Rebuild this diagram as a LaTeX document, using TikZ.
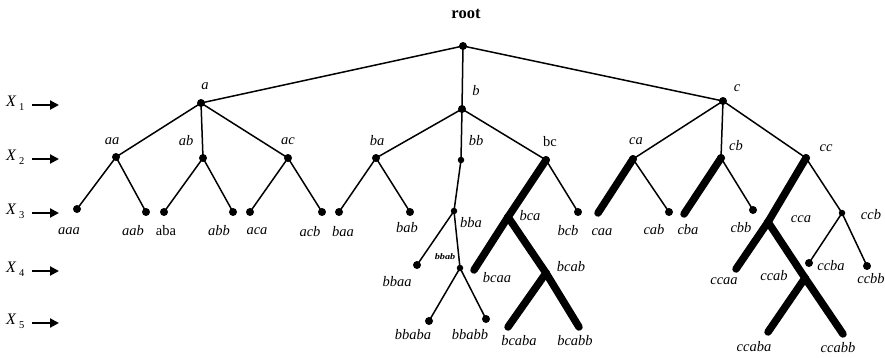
\documentclass[tikz,border=0pt]{standalone}
\usepackage{fontspec}
\setmainfont{Liberation Serif}
\usetikzlibrary{arrows.meta}
\begin{document}
\begin{tikzpicture}[x=1pt,y=-1pt,
  dot/.style={circle,fill=black,inner sep=0pt,minimum size=8pt},
  sdot/.style={circle,fill=black,inner sep=0pt,minimum size=6.5pt},
  edge/.style={line width=1.5pt},
  heavy/.style={line width=7.5pt,line cap=round},
  lab/.style={inner sep=0pt,font=\fontsize{14.5}{16}\selectfont\itshape},
  rlab/.style={inner sep=0pt,font=\fontsize{14.5}{16}\selectfont},
  lvl/.style={inner sep=0pt,anchor=west,font=\fontsize{16}{18}\selectfont},
  lvlarrow/.style={line width=2pt,-{Triangle[length=9pt,width=9pt]}}]
\useasboundingbox (0,0) rectangle (885,357);

% level markers
\foreach \k/\yy in {1/105,2/159,3/213,4/271,5/323}{
  \node[lvl] (X\k) at (6,\yy-2) {\textit{X}\,\raisebox{-4pt}{\fontsize{10.5}{10}\selectfont\k}};
  \coordinate (X\k tip) at (59,\yy);
  \draw[lvlarrow] (32,\yy) coordinate (X\k tail) -- (X\k tip);
}

% tree nodes
\node[dot] (root) at (463,46) {};
\node[dot] (a) at (201,103) {};
\node[dot] (b) at (462,109) {};
\node[dot] (c) at (723,101) {};

\node[dot] (aa) at (116,157) {};
\node[dot] (ab) at (203,158) {};
\node[dot] (ac) at (288,158) {};
\node[dot] (ba) at (376,158) {};
\node[sdot] (bb) at (461,160) {};
\node[dot] (bc) at (546,160) {};
\node[dot] (ca) at (633,159) {};
\node[dot] (cb) at (721,158) {};
\node[dot] (cc) at (806,158) {};

\node[dot] (aaa) at (77,209) {};
\node[dot] (aab) at (146,212) {};
\node[dot] (aba) at (164,212) {};
\node[dot] (abb) at (233,212) {};
\node[dot] (aca) at (250,212) {};
\node[dot] (acb) at (322,212) {};
\node[dot] (baa) at (339,212) {};
\node[dot] (bab) at (410,212) {};
\node[sdot] (bba) at (454,211) {};
\node[dot] (bca) at (508,217) {};
\node[dot] (bcb) at (578,212) {};
\coordinate (caa) at (598,213);
\node[dot] (cab) at (669,212) {};
\coordinate (cba) at (684,214);
\node[dot] (cbb) at (753,210) {};
\node[dot] (cca) at (768,222) {};
\node[sdot] (ccb) at (842,213) {};

\node[dot] (bbaa) at (417,265) {};
\node[sdot] (bbab) at (460,268) {};
\coordinate (bcaa) at (474,270);
\node[dot] (bcab) at (546,273) {};
\coordinate (ccaa) at (736,269);
\node[dot] (ccab) at (805,278) {};
\node[dot] (ccba) at (809,263) {};
\node[dot] (ccbb) at (867,266) {};

\node[dot] (bbaba) at (429,321) {};
\node[dot] (bbabb) at (486,319) {};
\coordinate (bcaba) at (508,327);
\coordinate (bcabb) at (579,327);
\coordinate (ccaba) at (768,332);
\coordinate (ccabb) at (843,334);

% thin branches
\foreach \p/\q in {root/a,root/b,root/c,
  a/aa,a/ab,a/ac,b/ba,b/bb,b/bc,c/ca,c/cb,c/cc,
  aa/aaa,aa/aab,ab/aba,ab/abb,ac/aca,ac/acb,ba/baa,ba/bab,
  bb/bba,bc/bcb,ca/cab,cb/cbb,cc/ccb,
  bba/bbaa,bba/bbab,ccb/ccba,ccb/ccbb,
  bbab/bbaba,bbab/bbabb}
  \draw[edge] (\p.center) -- (\q.center);

% heavy branches
\foreach \p/\q in {bc/bca,bca/bcaa,bca/bcab,bcab/bcaba,bcab/bcabb,
  ca/caa,cb/cba,cc/cca,cca/ccaa,cca/ccab,ccab/ccaba,ccab/ccabb}
  \draw[heavy] (\p.center) -- (\q.center);

% labels
\node[inner sep=0pt,font=\fontsize{16.5}{18}\selectfont\bfseries] (lroot) at (466,14) {root};
\node[lab] (la) at (205,86) {a};
\node[lab] (lb) at (476,91) {b};
\node[lab] (lc) at (737,88) {c};

\node[lab] (laa) at (112,141) {aa};
\node[lab] (lab) at (186,141) {ab};
\node[lab] (lac) at (288,141) {ac};
\node[lab] (lba) at (377,141) {ba};
\node[lab] (lbb) at (476,141) {bb};
\node[rlab] (lbc) at (550,142) {bc};
\node[lab] (lca) at (636,141) {ca};
\node[lab] (lcb) at (736,146) {cb};
\node[lab] (lcc) at (826,148) {cc};

\node[lab] (laaa) at (69,231) {aaa};
\node[lab] (laab) at (133,231) {aab};
\node[rlab] (laba) at (166,231) {aba};
\node[lab] (labb) at (219,231) {abb};
\node[lab] (laca) at (257,231) {aca};
\node[lab] (lacb) at (310,232) {acb};
\node[lab] (lbaa) at (343,232) {baa};
\node[lab] (lbab) at (407,228) {bab};
\node[lab] (lbba) at (471,223) {bba};
\node[lab] (lbca) at (530,216) {bca};
\node[lab] (lbcb) at (568,231) {bcb};
\node[lab] (lcaa) at (602,232) {caa};
\node[lab] (lcab) at (654,230) {cab};
\node[lab] (lcba) at (688,230) {cba};
\node[lab] (lcbb) at (741,228) {cbb};
\node[lab] (lcca) at (801,219) {cca};
\node[lab] (lccb) at (871,215) {ccb};

\node[lab] (lbbaa) at (397,282) {bbaa};
\node[inner sep=0pt,xscale=1.2,font=\fontsize{8.5}{9}\selectfont\bfseries\itshape] (lbbab) at (445,257) {bbab};
\node[lab] (lbcaa) at (497,278) {bcaa};
\node[lab] (lbcab) at (571,267) {bcab};
\node[lab] (lccaa) at (724,281) {ccaa};
\node[lab] (lccab) at (774,276) {ccab};
\node[lab] (lccba) at (831,266) {ccba};
\node[lab] (lccbb) at (871,279) {ccbb};

\node[lab] (lbbaba) at (413,335) {bbaba};
\node[lab] (lbbabb) at (470,335) {bbabb};
\node[lab] (lbcaba) at (519,341) {bcaba};
\node[lab] (lbcabb) at (575,341) {bcabb};
\node[lab] (lccaba) at (754,347) {ccaba};
\node[lab] (lccabb) at (838,348) {ccabb};
\end{tikzpicture}
\end{document}
